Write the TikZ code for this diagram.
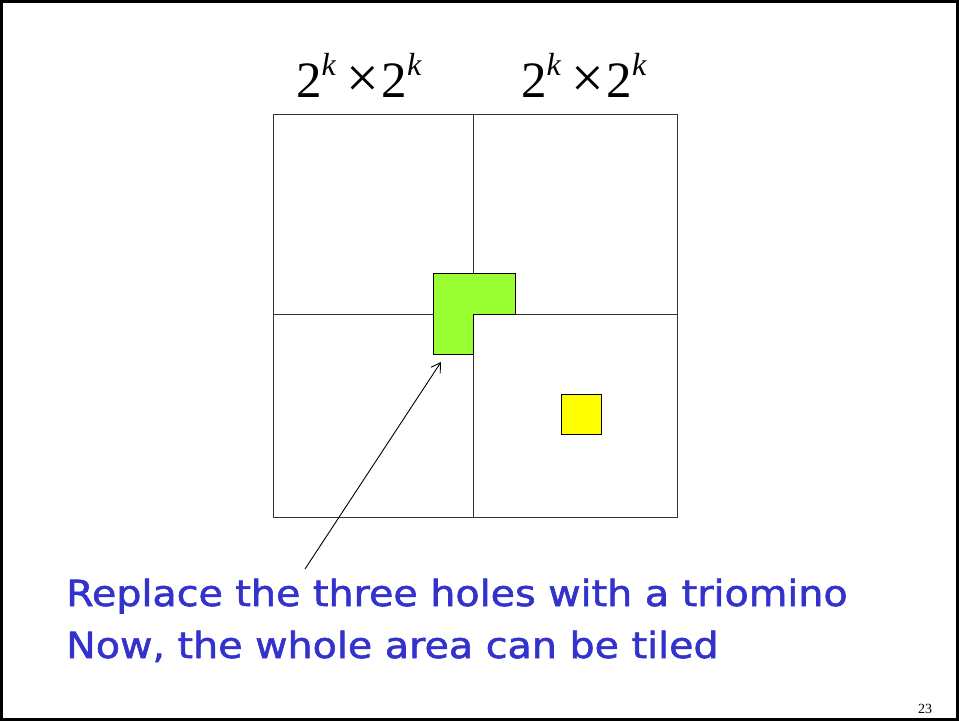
\documentclass[tikz,border=0pt]{standalone}
\usepackage{fontspec}
\usetikzlibrary{arrows.meta}
\setmainfont{Liberation Serif}
\newfontfamily\handfont[FakeBold=1.6]{DejaVu Sans}
\definecolor{textblue}{HTML}{3333CC}
\definecolor{trigreen}{HTML}{99FF33}
\definecolor{holeyellow}{HTML}{FFFF00}
\newcommand{\supk}{\raisebox{22pt}{\fontsize{32}{34}\selectfont\itshape k}}
\newcommand{\dimlabel}{{\fontsize{51}{56}\selectfont 2\supk\hspace{11pt}{\fontsize{58}{60}\selectfont ×}\hspace{2pt}2\supk}}
\newcommand{\handline}[1]{\scalebox{1.1}[1.0]{#1}}
\begin{document}
\begin{tikzpicture}[x=1pt,y=-1pt,
  gridline/.style={draw=black!80, line width=1pt},
  tile/.style={draw=black, line width=1pt},
  bodytext/.style={anchor=base west, inner sep=0pt, text=textblue, font=\handfont\fontsize{36}{40}\selectfont},
  labeltext/.style={anchor=base west, inner sep=0pt},
  pointer/.style={-{Straight Barb[length=9pt,width=11pt]}, line width=0.9pt}]
\useasboundingbox (0,0) rectangle (959,721);
\draw[line width=3pt] (1.5,1.5) rectangle (957.5,719.5);
% big square and quadrants
\draw[gridline] (273,114) rectangle (677,517);
\draw[gridline] (473,114) -- (473,517);
\draw[gridline] (273,314) -- (677,314);
% triomino
\draw[tile, fill=trigreen] (433,273) -- (515,273) -- (515,314) -- (473,314) -- (473,354) -- (433,354) -- cycle;
\coordinate (tip) at (441,362);
% hole
\node[tile, fill=holeyellow, minimum size=40pt, inner sep=0pt] (hole) at (581,414) {};
% labels
\node[labeltext] (lab1) at (296,97) {\dimlabel};
\node[labeltext] (lab2) at (521,97) {\dimlabel};
% text
\node[bodytext] (line1) at (66,606) {\handline{Replace the three holes with a triomino}};
\node[bodytext] (line2) at (66,658) {\handline{Now, the whole area can be tiled}};
\coordinate (tail) at (305,569);
\draw[pointer] (tail) -- (tip);
\node[labeltext, font=\fontsize{14}{16}\selectfont] (page) at (918,713) {23};
\end{tikzpicture}
\end{document}
